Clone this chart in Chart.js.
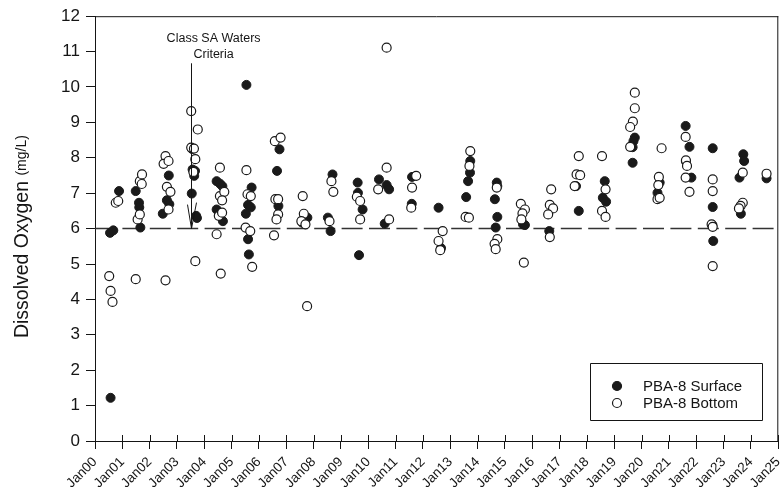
<!DOCTYPE html>
<html><head><meta charset="utf-8">
<script src="https://cdn.jsdelivr.net/npm/chart.js@4/dist/chart.umd.min.js"></script>
<style>html,body{margin:0;padding:0;background:#fff;}</style>
</head><body>
<canvas id="c" width="784" height="498"></canvas>
<script>
const tickLabels = ["Jan00","Jan01","Jan02","Jan03","Jan04","Jan05","Jan06","Jan07","Jan08","Jan09","Jan10","Jan11","Jan12","Jan13","Jan14","Jan15","Jan16","Jan17","Jan18","Jan19","Jan20","Jan21","Jan22","Jan23","Jan24","Jan25"];

// sample dates as decimal years since Jan 2000
const surfaceDate = [0.55,0.67,0.88,0.57, 1.49,1.61,1.62,1.66, 2.70,2.63,2.72,2.48, 3.55,3.57,3.66,3.63,3.54,3.70,3.73, 4.45,4.57,4.66,4.45,4.68, 5.54,5.73,5.60,5.70,5.52,5.60,5.63, 6.75,6.66,6.71, 7.77,7.58, 8.69,8.52,8.62, 9.61,9.62,9.79,9.66, 10.39,10.67,10.76,10.60, 11.60,11.59, 12.57,12.66, 13.73,13.72,13.65,13.58, 14.70,14.72,14.63,14.72,14.66, 15.66,15.73, 16.62, 17.60,17.70, 18.65,18.58,18.70, 19.75,19.70,19.67,19.67, 20.66,20.58, 21.61,21.75,21.62,21.82, 22.60,22.60,22.59,22.62, 23.72,23.75,23.58,23.63, 24.57];
const surfaceDO = [5.88,5.95,7.06,1.22, 7.06,6.73,6.60,6.03, 7.50,6.80,6.69,6.42, 8.25,7.67,7.63,7.49,6.99,6.36,6.30, 7.34,7.27,7.20,6.54,6.21, 10.06,7.16,6.67,6.60,6.42,5.70,5.27, 8.24,7.63,6.64, 6.31,6.17, 7.53,6.31,5.93, 7.30,7.01,6.54,5.25, 7.39,7.23,7.11,6.14, 7.46,6.70, 6.59,5.45, 7.91,7.58,7.34,6.89, 7.30,7.20,6.83,6.33,6.03, 6.12,6.10, 5.93, 7.20,6.50, 7.34,6.87,6.76, 8.57,8.47,8.30,7.86, 7.30,7.01, 8.90,8.31,7.90,7.44, 8.27,6.61,6.10,5.65, 8.10,7.91,7.44,6.42, 7.42];

const bottomDate = [0.52,0.57,0.64,0.76,0.85, 1.64,1.72,1.71,1.56,1.64,1.49, 2.58,2.51,2.69,2.63,2.76,2.69,2.58, 3.52,3.76,3.52,3.62,3.67,3.60,3.67, 4.57,4.57,4.73,4.65,4.53,4.65,4.45,4.60, 5.54,5.58,5.70,5.51,5.68,5.75, 6.58,6.79,6.60,6.70,6.70,6.64,6.55, 7.60,7.64,7.55,7.70,7.76, 8.65,8.72,8.58, 9.58,9.70,9.70, 10.67,10.67,10.36,10.76, 11.75,11.60,11.57, 12.72,12.57,12.63, 13.73,13.70,13.56,13.68, 14.70,14.72,14.62,14.66, 15.58,15.73,15.64,15.60,15.69, 16.69,16.64,16.76,16.58,16.64, 17.70,17.62,17.75,17.55, 18.55,18.68,18.55,18.68, 19.75,19.75,19.68,19.58,19.58, 20.73,20.63,20.61,20.58,20.66, 21.61,21.62,21.66,21.61,21.75, 22.60,22.60,22.56,22.60,22.60, 23.70,23.70,23.62,23.56, 24.57];
const bottomDO = [4.66,4.24,3.93,6.73,6.78, 7.34,7.53,7.26,6.26,6.40,4.57, 8.05,7.83,7.91,7.18,7.04,6.54,4.54, 9.32,8.80,8.29,8.26,7.96,7.60,5.08, 7.72,6.92,7.04,6.80,6.36,6.45,5.84,4.73, 7.65,6.97,6.92,6.03,5.93,4.92, 8.47,8.57,6.83,6.83,6.40,6.26,5.81, 6.92,6.42,6.21,6.12,3.81, 7.34,7.04,6.21, 6.90,6.78,6.26, 11.11,7.72,7.11,6.26, 7.49,7.16,6.59, 5.93,5.65,5.39, 8.19,7.77,6.33,6.31, 7.16,5.70,5.57,5.42, 6.70,6.54,6.43,6.26,5.04, 7.11,6.67,6.57,6.40,5.76, 8.05,7.53,7.51,7.20, 8.05,7.11,6.50,6.33, 9.84,9.40,9.02,8.87,8.31, 8.27,7.46,7.23,6.83,6.87, 8.59,7.93,7.77,7.44,7.04, 7.39,7.06,6.12,6.05,4.94, 7.58,6.73,6.64,6.57, 7.55];

const criteriaDate = [0, 25];
const criteriaDO = [6, 6];

const seriesNames = ["PBA-8 Surface", "PBA-8 Bottom"];
const annotationLines = ["Class SA Waters", "Criteria"];
const arrowDate = 3.52, arrowTop = 10.67, arrowTip = 6.0;
const annotTextDate = 4.34, annotTextDO = [11.38, 10.93];
const yTitleMain = "Dissolved Oxygen ", yTitleUnit = "(mg/L)";

const FONT = "'Liberation Sans', Arial, sans-serif";
const INK = '#151515';

const pts = (xs, ys) => xs.map((x, i) => ({x: x, y: ys[i]}));

const extras = {
  id: 'extras',
  afterDraw(chart) {
    const ctx = chart.ctx, a = chart.chartArea;
    const xs = chart.scales.x, ys = chart.scales.y;
    ctx.save();
    ctx.strokeStyle = INK; ctx.lineWidth = 1;
    ctx.beginPath();
    ctx.moveTo(a.left, a.top + 0.5); ctx.lineTo(a.right, a.top + 0.5);
    ctx.moveTo(a.right - 0.5, a.top); ctx.lineTo(a.right - 0.5, a.bottom);
    ctx.stroke();
    ctx.beginPath();
    for (let i = 0; i < tickLabels.length; i++) {
      const px = Math.round(xs.getPixelForValue(i)) + 0.5;
      ctx.moveTo(px, a.bottom - 6); ctx.lineTo(px, a.bottom);
    }
    ctx.stroke();
    const ax = Math.round(xs.getPixelForValue(arrowDate)) + 0.5;
    const at = ys.getPixelForValue(arrowTop), ab = ys.getPixelForValue(arrowTip);
    ctx.beginPath();
    ctx.moveTo(ax, at); ctx.lineTo(ax, ab);
    ctx.moveTo(ax - 4, ab - 24); ctx.lineTo(ax, ab); ctx.lineTo(ax + 5, ab - 26);
    ctx.stroke();
    ctx.fillStyle = INK;
    ctx.font = '12.5px ' + FONT;
    ctx.textAlign = 'center'; ctx.textBaseline = 'middle';
    const tx = xs.getPixelForValue(annotTextDate);
    annotationLines.forEach((t, i) => ctx.fillText(t, tx, ys.getPixelForValue(annotTextDO[i])));
    const lx = 590, ly = 363, lw = 172, lh = 57;
    ctx.beginPath(); ctx.rect(lx + 0.5, ly + 0.5, lw, lh); ctx.stroke();
    const ds = chart.data.datasets;
    [0, 1].forEach(k => {
      const cy = ly + 23 + k * 17;
      ctx.beginPath(); ctx.arc(lx + 27, cy, 4.5, 0, Math.PI * 2);
      ctx.fillStyle = ds[k].pointBackgroundColor; ctx.fill();
      ctx.lineWidth = 1.2; ctx.strokeStyle = ds[k].pointBorderColor; ctx.stroke();
      ctx.fillStyle = INK; ctx.font = '15px ' + FONT;
      ctx.textAlign = 'left'; ctx.textBaseline = 'middle';
      ctx.fillText(seriesNames[k], lx + 53, cy + 1);
    });
    ctx.translate(23, (a.top + a.bottom) / 2 + 8);
    ctx.rotate(-Math.PI / 2);
    ctx.font = '19.5px ' + FONT;
    const w1 = ctx.measureText(yTitleMain).width;
    ctx.font = '14px ' + FONT;
    const w2 = ctx.measureText(yTitleUnit).width;
    const start = -(w1 + w2) / 2;
    ctx.textAlign = 'left'; ctx.textBaseline = 'middle'; ctx.fillStyle = INK;
    ctx.font = '19.5px ' + FONT; ctx.fillText(yTitleMain, start, 0);
    ctx.font = '14px ' + FONT; ctx.fillText(yTitleUnit, start + w1, -1);
    ctx.restore();
  }
};

new Chart(document.getElementById('c'), {
  type: 'scatter',
  data: {
    datasets: [
      { label: seriesNames[0], data: pts(surfaceDate, surfaceDO), order: 1,
        pointRadius: 4.5, pointHoverRadius: 4.5, pointBackgroundColor: '#1a1a1a', pointBorderColor: '#1a1a1a', pointBorderWidth: 1 },
      { label: seriesNames[1], data: pts(bottomDate, bottomDO), order: 0,
        pointRadius: 4.5, pointHoverRadius: 4.5, pointBackgroundColor: '#ffffff', pointBorderColor: '#1a1a1a', pointBorderWidth: 1.2 },
      { type: 'line', label: 'Criteria', data: pts(criteriaDate, criteriaDO), order: 3,
        borderColor: '#333', borderWidth: 1.5, borderDash: [21, 6.4], pointRadius: 0, fill: false }
    ]
  },
  options: {
    responsive: false, animation: false,
    layout: { padding: { top: 15, right: 3, left: 0, bottom: 0 } },
    plugins: { legend: { display: false }, tooltip: { enabled: false } },
    scales: {
      x: {
        type: 'linear', min: 0, max: 25,
        afterFit(s) { s.height = 57; s.paddingLeft = 0; s.paddingRight = 0; },
        afterBuildTicks(s) { s.ticks = tickLabels.map((_, i) => ({ value: i })); },
        ticks: { autoSkip: false, minRotation: 45, maxRotation: 45, padding: 5, color: INK,
          font: { family: FONT, size: 13.5 }, callback: v => tickLabels[v] },
        grid: { display: true, drawOnChartArea: false, drawTicks: true, tickLength: 8, color: INK },
        border: { display: true, color: INK, width: 1 }
      },
      y: {
        min: 0, max: 12,
        afterFit(s) { s.width = 95; },
        ticks: { stepSize: 1, padding: 6, color: INK, font: { family: FONT, size: 17 } },
        grid: { display: true, drawOnChartArea: false, drawTicks: true, tickLength: 9, color: INK },
        border: { display: true, color: INK, width: 1 }
      }
    }
  },
  plugins: [extras]
});
</script>
</body></html>
